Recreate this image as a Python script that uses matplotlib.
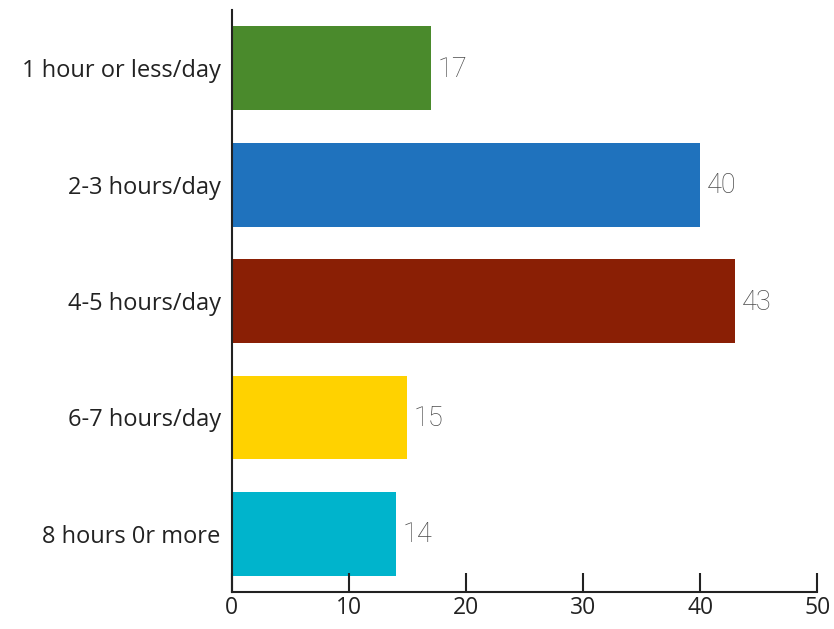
import matplotlib
matplotlib.use("Agg")
import matplotlib.pyplot as plt

categories = ["1 hour or less/day", "2-3 hours/day", "4-5 hours/day",
              "6-7 hours/day", "8 hours 0r more"]
values = [17, 40, 43, 15, 14]
colors = ["#4a8a2c", "#1f72bd", "#8a1f05", "#ffd200", "#00b4cc"]
xticks = [0, 10, 20, 30, 40, 50]

fig = plt.figure(figsize=(8.34, 6.29), dpi=100)
ax = fig.add_axes([0.278, 0.0588, 0.702, 0.925])

pos = list(range(len(categories)))
ax.barh(pos, values, height=0.72, color=colors)
for p, v in zip(pos, values):
    ax.text(v + 0.55, p + 0.01, str(v), va="center", ha="left",
            fontsize=19.5, color="#4a4a4a", family="Roboto", fontweight="light")

ax.set_ylim(4.5, -0.5)
ax.set_xlim(0, 50)
ax.set_yticks(pos)
ax.set_yticklabels(categories, fontsize=17, family="Open Sans", color="#222222")
ax.set_xticks(xticks)
ax.set_xticklabels([str(t) for t in xticks], fontsize=16.5, family="Open Sans", color="#222222")
ax.tick_params(axis="y", length=0, pad=8)
ax.tick_params(axis="x", direction="in", length=14, width=1.5, color="#222222", pad=3)
for s in ["top", "right"]:
    ax.spines[s].set_visible(False)
for s in ["left", "bottom"]:
    ax.spines[s].set_linewidth(1.5)
    ax.spines[s].set_color("#222222")

fig.savefig("out.png", dpi=100)
